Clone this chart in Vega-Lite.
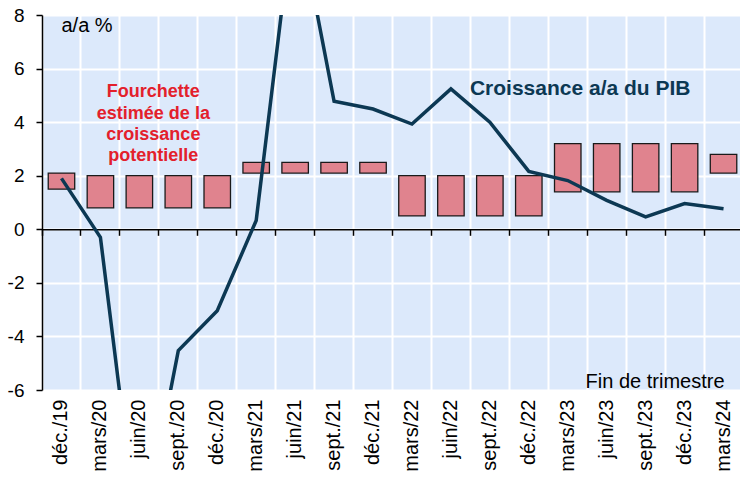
{
  "$schema": "https://vega.github.io/schema/vega-lite/v6.json",
  "autosize": "none",
  "width": 701,
  "height": 375,
  "padding": {"left": 42, "top": 15, "right": 0, "bottom": 92},
  "background": "white",
  "config": {
    "view": {"fill": "#dce9fb", "stroke": null},
    "font": "Liberation Sans",
    "axis": {"labelFont": "Liberation Sans", "labelColor": "#000000"}
  },
  "data": {
    "values": [
      {"q": "déc./19", "lo": 1.5, "hi": 2.1, "gdp": 1.9},
      {"q": "mars/20", "lo": 0.8, "hi": 2.0, "gdp": -0.3},
      {"q": "juin/20", "lo": 0.8, "hi": 2.0, "gdp": -12.0},
      {"q": "sept./20", "lo": 0.8, "hi": 2.0, "gdp": -4.53},
      {"q": "déc./20", "lo": 0.8, "hi": 2.0, "gdp": -3.04},
      {"q": "mars/21", "lo": 2.1, "hi": 2.5, "gdp": 0.33},
      {"q": "juin/21", "lo": 2.1, "hi": 2.5, "gdp": 12.3},
      {"q": "sept./21", "lo": 2.1, "hi": 2.5, "gdp": 4.78},
      {"q": "déc./21", "lo": 2.1, "hi": 2.5, "gdp": 4.49},
      {"q": "mars/22", "lo": 0.5, "hi": 2.0, "gdp": 3.93},
      {"q": "juin/22", "lo": 0.5, "hi": 2.0, "gdp": 5.24},
      {"q": "sept./22", "lo": 0.5, "hi": 2.0, "gdp": 4.0},
      {"q": "déc./22", "lo": 0.5, "hi": 2.0, "gdp": 2.16},
      {"q": "mars/23", "lo": 1.4, "hi": 3.2, "gdp": 1.82},
      {"q": "juin/23", "lo": 1.4, "hi": 3.2, "gdp": 1.08},
      {"q": "sept./23", "lo": 1.4, "hi": 3.2, "gdp": 0.46},
      {"q": "déc./23", "lo": 1.4, "hi": 3.2, "gdp": 0.96},
      {"q": "mars/24", "lo": 2.1, "hi": 2.8, "gdp": 0.77}
    ]
  },
  "layer": [
    {
      "mark": {"type": "point", "opacity": 0},
      "encoding": {
        "x": {
          "field": "q", "type": "nominal", "sort": null,
          "scale": {"paddingInner": 0, "paddingOuter": 0},
          "axis": {"orient": "bottom", "bandPosition": 0, "grid": true, "gridColor": "#ffffff", "gridWidth": 2, "gridOpacity": 1, "labels": false, "ticks": false, "domain": false, "title": null}
        },
        "y": {
          "field": "gdp", "type": "quantitative",
          "scale": {"domain": [-6, 8], "nice": false, "zero": false},
          "axis": {"values": [-6, -4, -2, 0, 2, 4, 6, 8], "labelExpr": "'' + datum.value", "grid": true, "gridColor": "#ffffff", "gridWidth": 2, "gridOpacity": 1, "domain": true, "domainColor": "#000000", "domainWidth": 1.5, "ticks": true, "tickColor": "#000000", "tickSize": 6, "tickWidth": 1.5, "labelFontSize": 19, "labelPadding": 12, "title": null}
        }
      }
    },
    {
      "mark": {"type": "bar", "width": {"band": 0.68}, "fill": "#e0838e", "stroke": "#1a1a1a", "strokeWidth": 1.3},
      "encoding": {
        "x": {
          "field": "q", "type": "nominal", "sort": null,
          "axis": {"orient": "bottom", "labelAngle": -90, "labelFontSize": 20, "labelPadding": 9, "grid": false, "ticks": false, "domain": false, "title": null}
        },
        "y": {"field": "lo", "type": "quantitative", "axis": null},
        "y2": {"field": "hi"}
      }
    },
    {
      "mark": {"type": "line", "clip": true, "color": "#0c3853", "strokeWidth": 3.5},
      "encoding": {
        "x": {
          "field": "q", "type": "nominal", "sort": null, "bandPosition": 0.5,
          "axis": {"orient": "bottom", "offset": -160.7, "bandPosition": 0, "labels": false, "grid": false, "domain": true, "domainColor": "#000000", "domainWidth": 1.5, "ticks": true, "tickColor": "#000000", "tickSize": 6, "tickWidth": 1.5, "title": null}
        },
        "y": {"field": "gdp", "type": "quantitative", "axis": null}
      }
    },
    {
      "data": {"values": [{}]},
      "mark": {"type": "text", "text": "a/a %", "align": "left", "baseline": "alphabetic", "fontSize": 20, "fill": "#000000"},
      "encoding": {
        "x": {"datum": "déc./19", "bandPosition": 0.5, "axis": null},
        "y": {"datum": 7.35, "axis": null}
      }
    },
    {
      "data": {"values": [{}]},
      "mark": {"type": "text", "text": "Croissance a/a du PIB", "align": "left", "baseline": "alphabetic", "fontSize": 21, "fontWeight": "bold", "fill": "#0c3853", "dx": 19},
      "encoding": {
        "x": {"datum": "juin/22", "bandPosition": 0.5, "axis": null},
        "y": {"datum": 5.0, "axis": null}
      }
    },
    {
      "data": {"values": [{}]},
      "mark": {"type": "text", "text": ["Fourchette", "estimée de la", "croissance", "potentielle"], "align": "center", "baseline": "alphabetic", "fontSize": 18, "fontWeight": "bold", "fill": "#e3202b", "lineHeight": 21.3, "dx": 14},
      "encoding": {
        "x": {"datum": "juin/20", "bandPosition": 0.5, "axis": null},
        "y": {"datum": 4.93, "axis": null}
      }
    },
    {
      "data": {"values": [{}]},
      "mark": {"type": "text", "text": "Fin de trimestre", "align": "right", "baseline": "alphabetic", "fontSize": 20, "fill": "#000000", "dx": 1, "dy": -2},
      "encoding": {
        "x": {"datum": "mars/24", "bandPosition": 0.5, "axis": null},
        "y": {"datum": -6, "axis": null}
      }
    }
  ],
  "resolve": {"axis": {"x": "independent", "y": "independent"}}
}
